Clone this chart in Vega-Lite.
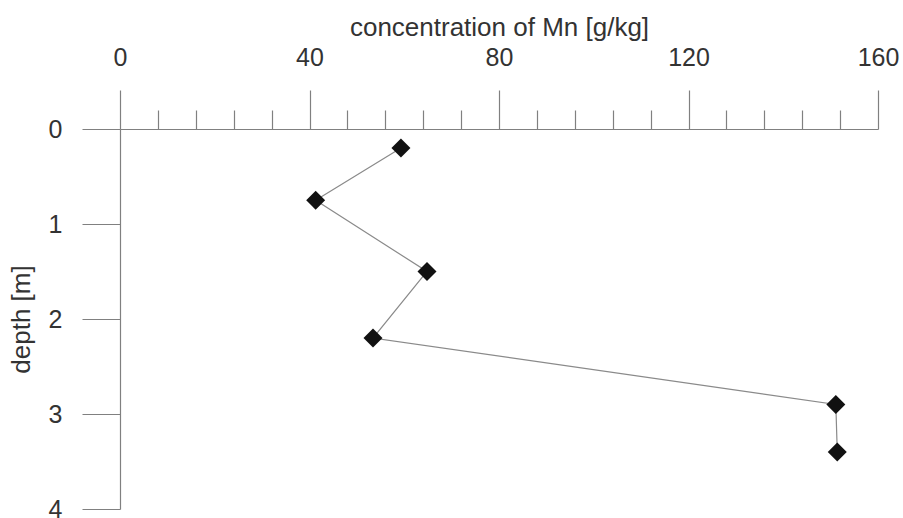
{
  "$schema": "https://vega.github.io/schema/vega-lite/v6.json",
  "width": 758,
  "height": 380,
  "autosize": "none",
  "padding": {"left": 120, "top": 129, "right": 25, "bottom": 9},
  "background": "white",
  "config": {
    "view": {"stroke": null},
    "font": "Liberation Sans",
    "axis": {
      "domainColor": "#808080",
      "tickColor": "#808080",
      "domainWidth": 1.2,
      "tickWidth": 1.2,
      "labelColor": "#333333",
      "titleColor": "#333333",
      "labelFontSize": 25,
      "titleFontSize": 26,
      "titleFontWeight": "normal",
      "labelFont": "Liberation Sans",
      "titleFont": "Liberation Sans",
      "grid": false
    }
  },
  "data": {
    "values": [
      {"conc": 59.3, "depth": 0.2},
      {"conc": 41.3, "depth": 0.75},
      {"conc": 64.8, "depth": 1.5},
      {"conc": 53.4, "depth": 2.2},
      {"conc": 151.1, "depth": 2.9},
      {"conc": 151.4, "depth": 3.4}
    ]
  },
  "encoding": {
    "x": {
      "field": "conc",
      "type": "quantitative",
      "scale": {"domain": [0, 160], "nice": false, "zero": false},
      "axis": {
        "orient": "top",
        "title": "concentration of Mn [g/kg]",
        "titlePadding": 5,
        "values": [0, 8, 16, 24, 32, 40, 48, 56, 64, 72, 80, 88, 96, 104, 112, 120, 128, 136, 144, 152, 160],
        "labelExpr": "datum.value % 40 === 0 ? datum.label : ''",
        "tickSize": {"condition": {"test": "datum.value % 40 === 0", "value": 39}, "value": 19},
        "labelPadding": 20,
        "labelOverlap": false,
        "labelFlush": false
      }
    },
    "y": {
      "field": "depth",
      "type": "quantitative",
      "scale": {"domain": [0, 4], "reverse": true, "nice": false, "zero": false},
      "axis": {
        "title": "depth [m]",
        "titlePadding": 14,
        "format": "d",
        "values": [0, 0.5, 1, 1.5, 2, 2.5, 3, 3.5, 4],
        "labelExpr": "datum.value % 1 === 0 ? datum.label : ''",
        "tickSize": {"condition": {"test": "datum.value % 1 === 0", "value": 38}, "value": 20},
        "labelPadding": 20,
        "labelOverlap": false,
        "labelFlush": false
      }
    }
  },
  "layer": [
    {
      "mark": {"type": "line", "color": "#8a8a8a", "strokeWidth": 1.2},
      "encoding": {"order": {"field": "depth", "type": "quantitative"}}
    },
    {"mark": {"type": "point", "shape": "diamond", "filled": true, "color": "#111111", "size": 360, "opacity": 1}}
  ]
}
